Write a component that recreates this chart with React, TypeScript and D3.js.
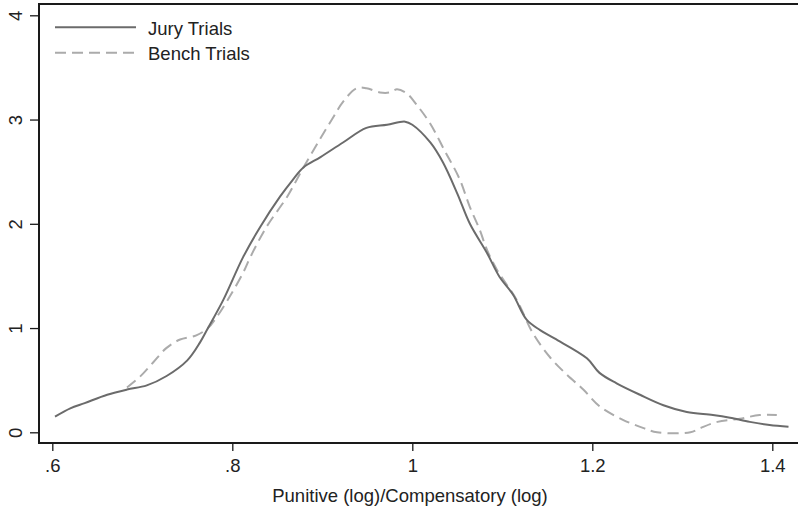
import { useEffect, useRef } from 'react';
import * as d3 from 'd3';

// density estimates
const juryX = [0.603, 0.620, 0.636, 0.661, 0.683, 0.705, 0.727, 0.750, 0.764, 0.773, 0.790, 0.812, 0.831, 0.853, 0.867, 0.879, 0.898, 0.923, 0.949, 0.972, 0.992, 1.0, 1.020, 1.034, 1.050, 1.064, 1.083, 1.097, 1.112, 1.127, 1.142, 1.158, 1.194, 1.208, 1.227, 1.253, 1.279, 1.305, 1.334, 1.353, 1.375, 1.397, 1.418];
const juryY = [0.15, 0.23, 0.28, 0.36, 0.41, 0.45, 0.54, 0.69, 0.86, 1.0, 1.27, 1.68, 1.97, 2.26, 2.42, 2.54, 2.64, 2.78, 2.92, 2.95, 2.98, 2.95, 2.78, 2.59, 2.29, 2.0, 1.72, 1.49, 1.32, 1.08, 0.98, 0.90, 0.71, 0.57, 0.47, 0.36, 0.26, 0.195, 0.166, 0.14, 0.10, 0.07, 0.054];

const benchX = [0.683, 0.697, 0.712, 0.727, 0.742, 0.760, 0.773, 0.783, 0.797, 0.812, 0.820, 0.838, 0.861, 0.879, 0.898, 0.912, 0.923, 0.938, 0.949, 0.964, 0.975, 0.983, 0.994, 1.005, 1.020, 1.036, 1.052, 1.064, 1.075, 1.083, 1.094, 1.116, 1.134, 1.153, 1.172, 1.190, 1.208, 1.234, 1.257, 1.272, 1.309, 1.320, 1.339, 1.364, 1.386, 1.405];
const benchY = [0.43, 0.53, 0.67, 0.81, 0.89, 0.93, 1.0, 1.11, 1.30, 1.53, 1.68, 1.97, 2.26, 2.54, 2.82, 3.02, 3.17, 3.30, 3.30, 3.26, 3.26, 3.29, 3.25, 3.14, 2.96, 2.70, 2.44, 2.16, 1.94, 1.75, 1.56, 1.27, 0.95, 0.72, 0.55, 0.41, 0.25, 0.12, 0.04, 0.0, 0.0, 0.04, 0.10, 0.13, 0.166, 0.166];

const xTicks = [0.6, 0.8, 1.0, 1.2, 1.4];
const xTickLabels = ['.6', '.8', '1', '1.2', '1.4'];
const yTicks = [0, 1, 2, 3, 4];
const seriesNames = ['Jury Trials', 'Bench Trials'];

const App = () => {
  const ref = useRef<SVGSVGElement>(null);

  useEffect(() => {
    const svg = d3.select(ref.current);
    svg.selectAll('*').remove();

    const font = 'Liberation Sans, Arial, Helvetica, sans-serif';
    const fs = 18.5;
    const dash = '11,6';
    const left = 39, top = 4, bottom = 443;

    const x = d3.scaleLinear().domain([0.6, 1.4]).range([52.3, 772.3]);
    const y = d3.scaleLinear().domain([0, 4]).range([432.3, 15.3]);

    // frame
    svg.append('path')
      .attr('d', `M800,${top}H${left}V${bottom}H800`)
      .attr('fill', 'none')
      .attr('stroke', '#1a1a1a')
      .attr('stroke-width', 2);

    const xAxis = svg.append('g')
      .attr('transform', `translate(0,${bottom})`)
      .call(d3.axisBottom(x).tickValues(xTicks).tickSize(8)
        .tickFormat((d, i) => xTickLabels[i]));
    xAxis.select('.domain').remove();
    xAxis.selectAll('line').attr('stroke', '#1a1a1a').attr('stroke-width', 1.3);
    xAxis.selectAll('text')
      .attr('font-family', font).attr('font-size', fs).attr('fill', '#222')
      .attr('y', 29).attr('dy', 0);

    const yAxis = svg.append('g')
      .attr('transform', `translate(${left},0)`)
      .call(d3.axisLeft(y).tickValues(yTicks).tickSize(9).tickFormat(d3.format('d')));
    yAxis.select('.domain').remove();
    yAxis.selectAll('line').attr('stroke', '#1a1a1a').attr('stroke-width', 1.3);
    yAxis.selectAll('text')
      .attr('font-family', font).attr('font-size', fs).attr('fill', '#222')
      .attr('x', 0).attr('y', 0).attr('dy', '0.35em')
      .attr('text-anchor', 'middle')
      .attr('transform', 'translate(-23,0) rotate(-90)');

    svg.append('text')
      .attr('x', 410).attr('y', 502)
      .attr('text-anchor', 'middle')
      .attr('font-family', font).attr('font-size', fs).attr('fill', '#222')
      .text('Punitive (log)/Compensatory (log)');

    const line = d3.line<[number, number]>()
      .x(d => x(d[0]))
      .y(d => y(d[1]))
      .curve(d3.curveCatmullRom);

    const jury = juryX.map((v, i) => [v, juryY[i]] as [number, number]);
    const bench = benchX.map((v, i) => [v, benchY[i]] as [number, number]);

    svg.append('path')
      .datum(bench)
      .attr('fill', 'none')
      .attr('stroke', '#ababab')
      .attr('stroke-width', 2)
      .attr('stroke-dasharray', dash)
      .attr('d', line);

    svg.append('path')
      .datum(jury)
      .attr('fill', 'none')
      .attr('stroke', '#6b6b6b')
      .attr('stroke-width', 2)
      .attr('d', line);

    // legend
    const legend = svg.append('g');
    const styles = [
      { stroke: '#6b6b6b', dash: null },
      { stroke: '#ababab', dash: dash },
    ];
    seriesNames.forEach((name, i) => {
      const ly = 27.3 + i * 25.4;
      legend.append('line')
        .attr('x1', 55).attr('x2', 136).attr('y1', ly).attr('y2', ly)
        .attr('stroke', styles[i].stroke)
        .attr('stroke-width', 2)
        .attr('stroke-dasharray', styles[i].dash);
      legend.append('text')
        .attr('x', 148).attr('y', ly + 7.7)
        .attr('font-family', font).attr('font-size', fs).attr('fill', '#222')
        .text(name);
    });
  }, []);

  return (
    <svg
      ref={ref}
      width={798}
      height={509}
      style={{ position: 'absolute', left: 0, top: 0, background: '#fff' }}
    />
  );
};

export default App;
